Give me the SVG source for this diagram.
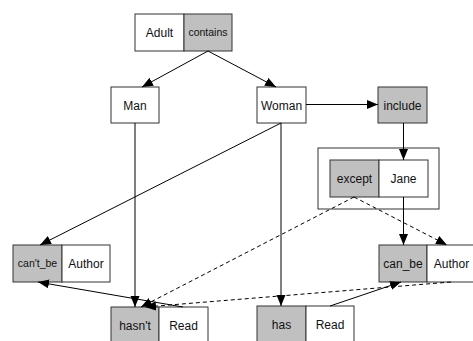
<svg xmlns="http://www.w3.org/2000/svg" width="473" height="341" viewBox="0 0 473 341">
<defs>
<marker id="ah" markerUnits="userSpaceOnUse" markerWidth="12" markerHeight="10" refX="11" refY="4.5" orient="auto">
<path d="M0,0 L11,4.5 L0,9 z" fill="#000"/>
</marker>
<style>
rect.n{stroke:#333;stroke-width:1;fill:#fff}
rect.g{fill:#c0c0c0}
text{font-family:"Liberation Sans",Arial,sans-serif;font-size:12px;fill:#111;text-anchor:middle}
text.s{font-size:10.5px}
.c line{stroke:#000;stroke-width:1;marker-end:url(#ah)}
.c line.d{stroke-dasharray:4,3}
</style>
</defs>
<rect width="473" height="341" fill="#fff"/>
<g id="adult"><rect class="n" x="135" y="14" width="49" height="37"/><rect class="n g" x="184" y="14" width="48" height="37"/><text x="159.5" y="36.5">Adult</text><text class="s" x="208" y="36">contains</text></g>
<g id="man"><rect class="n" x="111" y="87" width="48" height="36"/><text x="135" y="109.5">Man</text></g>
<g id="woman"><rect class="n" x="257" y="87" width="49" height="36"/><text x="281.5" y="109.5">Woman</text></g>
<g id="include"><rect class="n g" x="378" y="87" width="49" height="36"/><text x="402.5" y="109.5">include</text></g>
<g id="exceptJane"><rect class="n" x="318" y="148" width="121" height="61"/><rect class="n g" x="330" y="160" width="49" height="37"/><rect class="n" x="379" y="160" width="49" height="37"/><text x="354.5" y="182.5">except</text><text x="403.5" y="182.5">Jane</text></g>
<g id="cantbe"><rect class="n g" x="13" y="245" width="49" height="37"/><rect class="n" x="62" y="245" width="48" height="37"/><text class="s" x="37.5" y="267">can't_be</text><text x="86" y="267.5">Author</text></g>
<g id="canbe"><rect class="n g" x="379" y="245" width="48" height="37"/><rect class="n" x="427" y="245" width="49" height="37"/><text x="403" y="267.5">can_be</text><text x="451.5" y="267.5">Author</text></g>
<g id="hasnt"><rect class="n g" x="111" y="307" width="48" height="37"/><rect class="n" x="159" y="307" width="49" height="37"/><text x="135" y="329.5">hasn't</text><text x="183.5" y="329.5">Read</text></g>
<g id="has"><rect class="n g" x="257" y="306" width="49" height="37"/><rect class="n" x="306" y="306" width="48" height="37"/><text x="281.5" y="328.5">has</text><text x="330" y="328.5">Read</text></g>
<g class="c" id="connectors">
<line x1="208" y1="51" x2="142" y2="87"/>
<line x1="208" y1="51" x2="276" y2="87"/>
<line x1="306" y1="104.5" x2="378" y2="104.5"/>
<line x1="403.5" y1="123" x2="403.5" y2="160"/>
<line x1="403.5" y1="197" x2="403.5" y2="245"/>
<line x1="135" y1="123" x2="135" y2="307"/>
<line x1="281" y1="123" x2="40" y2="245"/>
<line x1="281" y1="123" x2="281" y2="306"/>
<line x1="183" y1="307" x2="38" y2="282"/>
<line x1="330" y1="306" x2="401" y2="282"/>
<line class="d" x1="451" y1="282" x2="145" y2="307"/>
<line class="d" x1="354" y1="197" x2="141" y2="307"/>
<line class="d" x1="354" y1="197" x2="447" y2="245"/>
</g>
</svg>
